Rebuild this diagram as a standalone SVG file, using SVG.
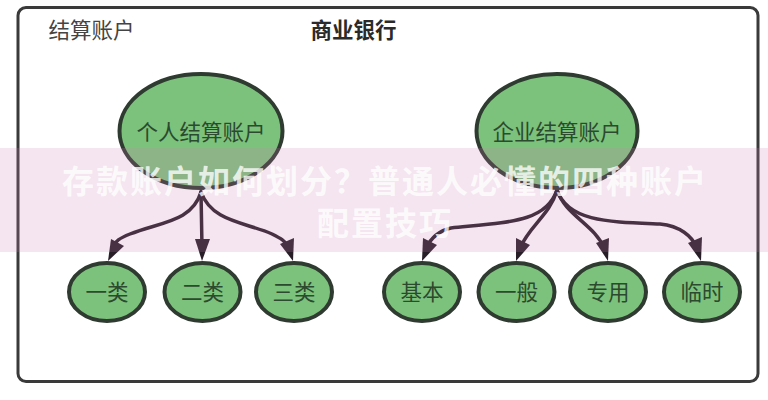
<svg xmlns="http://www.w3.org/2000/svg" width="768" height="400" viewBox="0 0 768 400">
<style>
text{font-family:"Noto Sans CJK SC","Noto Sans",sans-serif;text-anchor:middle;font-size:21.500px}
.n ellipse{fill:#7cc27c;stroke:#2f3a30;stroke-width:4}
.n text{fill:#2c4a2e}
.c path{fill:none;stroke:#281e28;stroke-width:3.5;stroke-linecap:round}
.c polygon{fill:#281e28}
.h{fill:#fff;fill-opacity:.8;font-size:32px;font-weight:700;letter-spacing:2px}
</style>
<rect width="768" height="400" fill="#fff"/>
<g id="frame"><rect x="18" y="7.500" width="740" height="374" rx="8" fill="none" stroke="#3a3a3a" stroke-width="3"/></g>
<g id="label-account"><text x="91.500" y="38" fill="#444">结算账户</text></g>
<g id="label-bank"><text x="353.500" y="38" fill="#2a2a2a" font-weight="700">商业银行</text></g>
<g class="c" id="connectors">
<path d="M201,192C192,222 160,222 130,234C120,238 115,241 112,248"/>
<polygon points="108,261 111,239 124,246"/>
<path d="M201,192L202,248"/>
<polygon points="202,261 195,239 210,239"/>
<path d="M201,192C212,222 245,222 272,234C280,238 286,241 289,248"/>
<polygon points="293,261 280,244 294,238"/>
<path d="M557,190C546,222 510,222 451,228C438,231 431,238 426,248"/>
<polygon points="422,261 423,238 437,245"/>
<path d="M557,190C550,215 530,225 520,248"/>
<polygon points="516,261 516,238 530,245"/>
<path d="M557,190C565,215 595,225 604,248"/>
<polygon points="608,261 596,243 609,238"/>
<path d="M557,190C568,222 610,222 660,224C680,226 692,236 697,248"/>
<polygon points="701,261 688,243 702,237"/>
</g>
<g class="n" id="n-personal"><ellipse cx="201" cy="131" rx="81.500" ry="57"/><text x="201" y="140">个人结算账户</text></g>
<g class="n" id="n-corp"><ellipse cx="557" cy="131" rx="80.500" ry="57"/><text x="557" y="140">企业结算账户</text></g>
<g class="n" id="n-1"><ellipse cx="107" cy="292" rx="38" ry="29"/><text x="107" y="300">一类</text></g>
<g class="n" id="n-2"><ellipse cx="202.500" cy="292" rx="38" ry="29"/><text x="202.500" y="300">二类</text></g>
<g class="n" id="n-3"><ellipse cx="294" cy="292" rx="38" ry="29"/><text x="294" y="300">三类</text></g>
<g class="n" id="n-basic"><ellipse cx="422" cy="292" rx="38" ry="29"/><text x="422" y="300">基本</text></g>
<g class="n" id="n-general"><ellipse cx="516.500" cy="292" rx="38" ry="29"/><text x="516.500" y="300">一般</text></g>
<g class="n" id="n-special"><ellipse cx="608" cy="292" rx="38" ry="29"/><text x="608" y="300">专用</text></g>
<g class="n" id="n-temp"><ellipse cx="702" cy="292" rx="38" ry="29"/><text x="702" y="300">临时</text></g>
<g id="banner">
<rect x="0" y="148" width="768" height="104" fill="#cd7db4" fill-opacity=".2"/>
<text class="h" x="385" y="193">存款账户如何划分？普通人必懂的四种账户</text>
<text class="h" x="385" y="235">配置技巧</text>
</g>
</svg>
